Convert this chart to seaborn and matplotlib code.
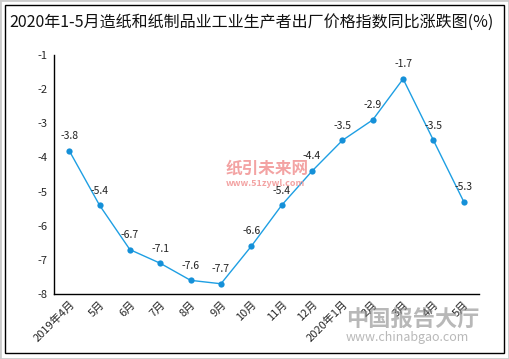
import matplotlib
matplotlib.use("Agg")
import matplotlib.pyplot as plt
import seaborn as sns
import pandas as pd
from matplotlib.patches import Rectangle

# data
months = ["2019年4月", "5月", "6月", "7月", "8月", "9月", "10月", "11月", "12月",
          "2020年1月", "2月", "3月", "4月", "5月"]
values = [-3.8, -5.4, -6.7, -7.1, -7.6, -7.7, -6.6, -5.4, -4.4, -3.5, -2.9, -1.7, -3.5, -5.3]
yticks = [-8, -7, -6, -5, -4, -3, -2, -1]

df = pd.DataFrame({"month": months, "value": values, "pos": range(len(months))})

sns.set_theme(style="white")
plt.rcParams["font.family"] = ["Noto Sans CJK SC", "DejaVu Sans"]
plt.rcParams["axes.unicode_minus"] = False

fig = plt.figure(figsize=(5.09, 3.59), dpi=100)
ax = fig.add_axes([54 / 509, 1 - 294 / 359, (479 - 54) / 509, (294 - 55) / 359])

# watermarks (behind the data)
fig.text(226 / 509, 1 - 169 / 359, "纸引未来网", fontsize=12, color="#F08C8C",
         fontweight="bold", ha="left", va="center", alpha=0.8, zorder=0)
fig.text(226 / 509, 1 - 183 / 359, "www.51zywl.com", fontsize=6.5, color="#F08C8C",
         fontweight="bold", ha="left", va="center", alpha=0.8, zorder=0)
fig.text(346 / 509, 1 - 320 / 359, "中国报告大厅", fontsize=16, color="#8A8A8A",
         fontweight="bold", ha="left", va="center", alpha=0.6, zorder=0)
fig.text(346 / 509, 1 - 338 / 359, "www.chinabgao.com", fontsize=9, color="#8A8A8A",
         ha="left", va="center", alpha=0.6, zorder=0)
ax.patch.set_alpha(0)

line_color = "#1E9FE3"
sns.lineplot(data=df, x="pos", y="value", ax=ax, color=line_color, linewidth=1,
             marker="o", markersize=4.5, markeredgewidth=0, markerfacecolor="#1590D8")

for x, y in zip(df["pos"], df["value"]):
    ax.annotate(f"{y:g}", (x, y), xytext=(0, 7), textcoords="offset points",
                ha="center", va="bottom", fontsize=7.5, color="#222222")

ax.set_xlim(-0.5, len(months) - 0.5)
ax.set_ylim(-8, -1)
ax.set_yticks(yticks)
ax.set_yticklabels([str(t) for t in yticks], fontsize=8)
ax.set_xticks(df["pos"])
ax.set_xticklabels(months, rotation=45, ha="right", rotation_mode="anchor", fontsize=8)
ax.set_xlabel("")
ax.set_ylabel("")
for side in ["top", "right"]:
    ax.spines[side].set_visible(False)
for side in ["left", "bottom"]:
    ax.spines[side].set_color("black")
    ax.spines[side].set_linewidth(1)
ax.tick_params(axis="both", direction="inout", length=5, width=1, color="#333333", pad=2)
ax.tick_params(axis="x", pad=1)

fig.text(252 / 509, 1 - 22 / 359, "2020年1-5月造纸和纸制品业工业生产者出厂价格指数同比涨跌图(%)",
         ha="center", va="center", fontsize=11.5, color="#111111")

# frame borders
fig.patches.append(Rectangle((0, 0), 1, 1, transform=fig.transFigure, fill=False,
                             edgecolor="#CCCCCC", linewidth=2))
fig.patches.append(Rectangle((4.5 / 509, 1 - 352.5 / 359), 499 / 509, 348 / 359,
                             transform=fig.transFigure, fill=False,
                             edgecolor="black", linewidth=1))

fig.savefig("out.png", dpi=100)
